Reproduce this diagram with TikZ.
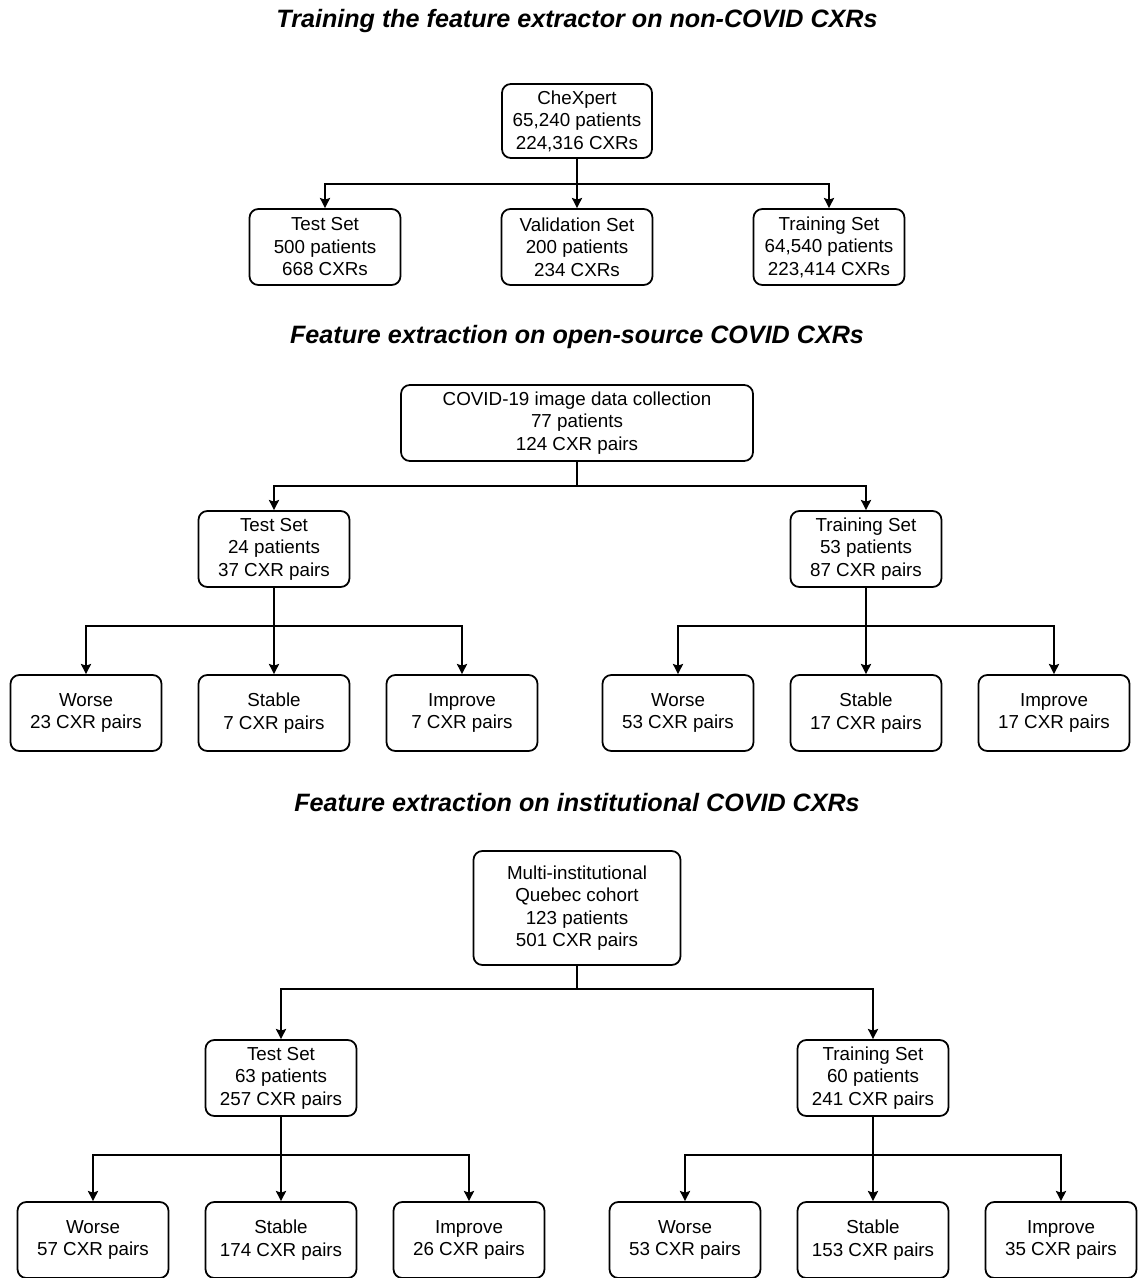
\documentclass[tikz,border=0pt]{standalone}
\usepackage{fontspec}
\setmainfont{Liberation Sans}
\usetikzlibrary{arrows,arrows.meta,positioning}
\tikzset{
  box/.style={draw=black, line width=1pt, rounded corners=5pt, align=center,
    minimum width=3.02cm, minimum height=1.52cm, inner sep=1pt,
    font=\fontsize{10.7}{12.8}\selectfont},
  heading/.style={font=\fontsize{14.3}{17}\selectfont\bfseries\itshape},
  link/.style={draw=black, line width=1pt},
  arrow/.style={draw=black, line width=1pt,
    -{Stealth[length=5.8pt,width=5.8pt,inset=1pt]}},
}

\begin{document}
\begin{tikzpicture}[x=0.02cm,y=-0.02cm]
  \useasboundingbox (0,0) rectangle (1144,1278);
  \clip (0,0) rectangle (1144,1278);

  % non-COVID part
  \node[heading] (head1) at (577,21) {Training the feature extractor on non-COVID CXRs};
  \node[box, minimum width=3cm, minimum height=1.48cm] (chex0) at (577,121)
    {CheXpert\\65,240 patients\\224,316 CXRs};
  \node[box] (chex1) at (325,247) {Test Set\\500 patients\\668 CXRs};
  \node[box] (chex2) at (577,247) {Validation Set\\200 patients\\234 CXRs};
  \node[box] (chex3) at (829,247) {Training Set\\64,540 patients\\223,414 CXRs};
  \coordinate (chexb) at (577,184);
  \draw[link] (chex0) -- (chexb);
  \draw[arrow] (chexb) -| (chex1.north);
  \draw[arrow] (chexb) -- (chex2.north);
  \draw[arrow] (chexb) -| (chex3.north);

  % open-source COVID part
  \node[heading] (head2) at (577,337) {Feature extraction on open-source COVID CXRs};
  \node[box, minimum width=7.04cm] (open0) at (577,423)
    {COVID-19 image data collection\\77 patients\\124 CXR pairs};
  \node[box] (open1) at (274,549) {Test Set\\24 patients\\37 CXR pairs};
  \node[box] (open2) at (866,549) {Training Set\\53 patients\\87 CXR pairs};
  \coordinate (openb) at (577,486);
  \draw[link] (open0) -- (openb);
  \draw[arrow] (openb) -| (open1.north);
  \draw[arrow] (openb) -| (open2.north);

  \node[box] (open1w) at (86,713) {Worse\\23 CXR pairs};
  \node[box] (open1s) at (274,713) {Stable\\7 CXR pairs};
  \node[box] (open1i) at (462,713) {Improve\\7 CXR pairs};
  \coordinate (open1b) at (274,626);
  \draw[link] (open1) -- (open1b);
  \draw[arrow] (open1b) -| (open1w.north);
  \draw[arrow] (open1b) -- (open1s.north);
  \draw[arrow] (open1b) -| (open1i.north);

  \node[box] (open2w) at (678,713) {Worse\\53 CXR pairs};
  \node[box] (open2s) at (866,713) {Stable\\17 CXR pairs};
  \node[box] (open2i) at (1054,713) {Improve\\17 CXR pairs};
  \coordinate (open2b) at (866,626);
  \draw[link] (open2) -- (open2b);
  \draw[arrow] (open2b) -| (open2w.north);
  \draw[arrow] (open2b) -- (open2s.north);
  \draw[arrow] (open2b) -| (open2i.north);

  % institutional COVID part
  \node[heading] (head3) at (577,803) {Feature extraction on institutional COVID CXRs};
  \node[box, minimum width=4.14cm, minimum height=2.28cm] (inst0) at (577,908)
    {Multi-institutional\\Quebec cohort\\123 patients\\501 CXR pairs};
  \node[box] (inst1) at (281,1078) {Test Set\\63 patients\\257 CXR pairs};
  \node[box] (inst2) at (873,1078) {Training Set\\60 patients\\241 CXR pairs};
  \coordinate (instb) at (577,989);
  \draw[link] (inst0) -- (instb);
  \draw[arrow] (instb) -| (inst1.north);
  \draw[arrow] (instb) -| (inst2.north);

  \node[box] (inst1w) at (93,1240) {Worse\\57 CXR pairs};
  \node[box] (inst1s) at (281,1240) {Stable\\174 CXR pairs};
  \node[box] (inst1i) at (469,1240) {Improve\\26 CXR pairs};
  \coordinate (inst1b) at (281,1155);
  \draw[link] (inst1) -- (inst1b);
  \draw[arrow] (inst1b) -| (inst1w.north);
  \draw[arrow] (inst1b) -- (inst1s.north);
  \draw[arrow] (inst1b) -| (inst1i.north);

  \node[box] (inst2w) at (685,1240) {Worse\\53 CXR pairs};
  \node[box] (inst2s) at (873,1240) {Stable\\153 CXR pairs};
  \node[box] (inst2i) at (1061,1240) {Improve\\35 CXR pairs};
  \coordinate (inst2b) at (873,1155);
  \draw[link] (inst2) -- (inst2b);
  \draw[arrow] (inst2b) -| (inst2w.north);
  \draw[arrow] (inst2b) -- (inst2s.north);
  \draw[arrow] (inst2b) -| (inst2i.north);
\end{tikzpicture}
\end{document}
